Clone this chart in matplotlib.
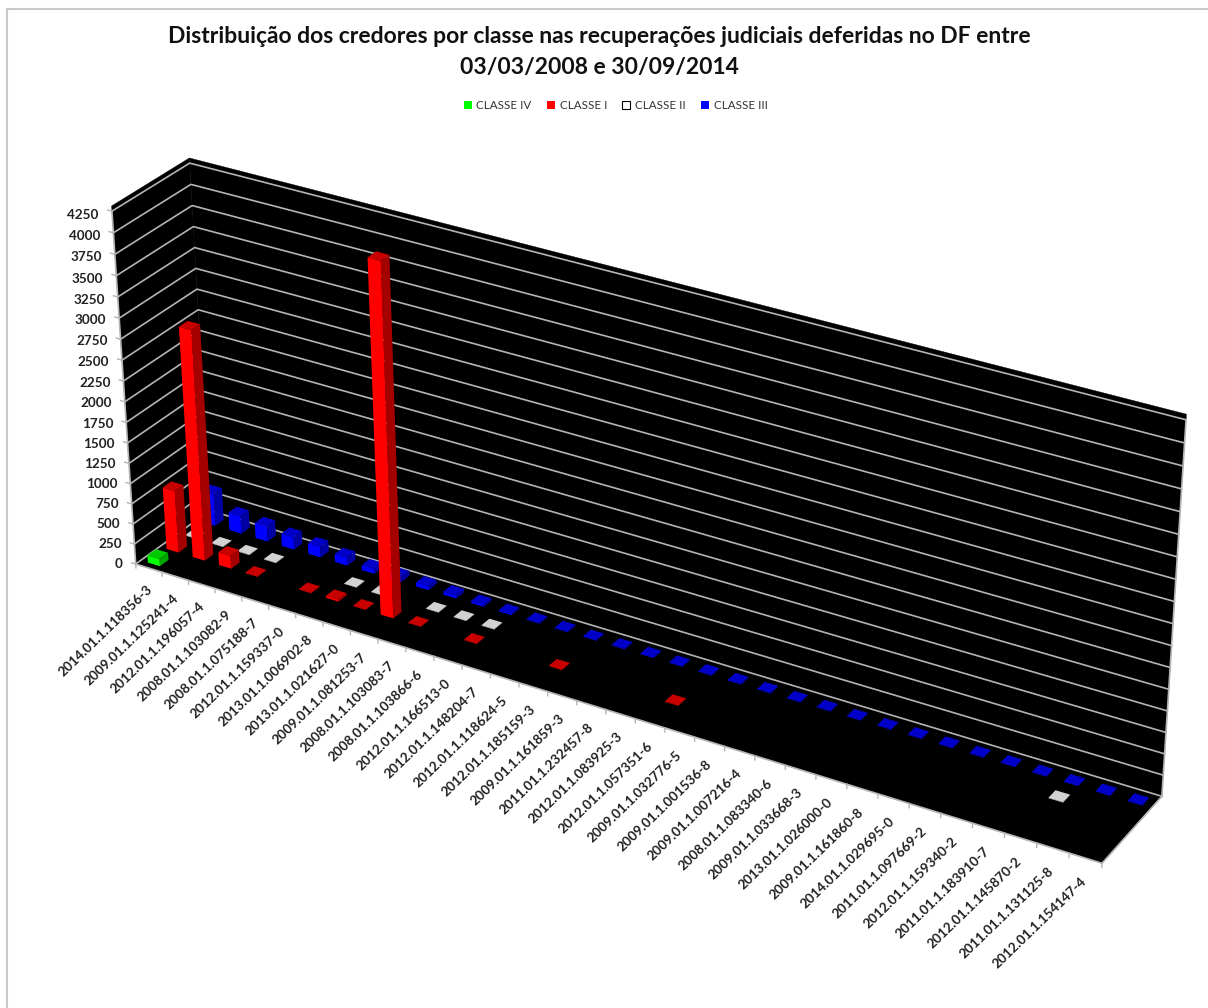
import numpy as np
import matplotlib
matplotlib.use('Agg')
import matplotlib.pyplot as plt
from matplotlib.lines import Line2D
from matplotlib.patches import Patch
from mpl_toolkits.mplot3d import proj3d
from mpl_toolkits.mplot3d.art3d import Poly3DCollection

plt.rcParams['font.family'] = ['Lato', 'DejaVu Sans']

W, H = 1208, 1008
S = 1400

processos = ['2014.01.1.118356-3', '2009.01.1.125241-4', '2012.01.1.196057-4', '2008.01.1.103082-9',
             '2008.01.1.075188-7', '2012.01.1.159337-0', '2013.01.1.006902-8', '2013.01.1.021627-0',
             '2009.01.1.081253-7', '2008.01.1.103083-7', '2008.01.1.103866-6', '2012.01.1.166513-0',
             '2012.01.1.148204-7', '2012.01.1.118624-5', '2012.01.1.185159-3', '2009.01.1.161859-3',
             '2011.01.1.232457-8', '2012.01.1.083925-3', '2012.01.1.057351-6', '2009.01.1.032776-5',
             '2009.01.1.001536-8', '2009.01.1.007216-4', '2008.01.1.083340-6', '2009.01.1.033668-3',
             '2013.01.1.026000-0', '2009.01.1.161860-8', '2014.01.1.029695-0', '2011.01.1.097669-2',
             '2012.01.1.159340-2', '2011.01.1.183910-7', '2012.01.1.145870-2', '2011.01.1.131125-8',
             '2012.01.1.154147-4']
classe_iv = [90] + [0] * 32
classe_i = [770, 2820, 160, 10, 0, 8, 25, 8, 4240, 5, 0, 5, 0, 0, 5, 0, 0, 0, 5] + [0] * 14
classe_ii = [5, 5, 5, 5, 0, 0, 5, 5, 0, 5, 5, 5] + [0] * 18 + [5, 0, 0]
classe_iii = [400, 220, 190, 155, 135, 100, 60, 60, 50, 40, 25, 15, 10, 10, 8, 8, 8, 8, 8, 8,
              6, 6, 6, 6, 6, 6, 6, 5, 5, 5, 5, 5, 5]
yticks = list(range(0, 4500, 250))

N = len(processos)
D = 4
Z_TOP = 4310

fig = plt.figure(figsize=(W / 100, H / 100), dpi=100)
# camera worked out from the corners of the walls in the picture
ax = fig.add_axes([((W - S) / 2 + 1.69) / W, ((H - S) / 2 - 11.8) / H, S / W, S / H], projection='3d')
ax.view_init(28.97, -59.10, 0.32)
ax.set_proj_type('persp', focal_length=float(np.exp(-0.5376)))
ax.set_box_aspect((1, float(np.exp(-2.1244)), float(np.exp(-1.0055))), zoom=float(np.exp(-0.1680)))
ax.set_axis_off()
ax.computed_zorder = False
ax.patch.set_alpha(0)

wall = [[(0, 0, 0), (0, D, 0), (0, D, Z_TOP), (0, 0, Z_TOP)],
        [(0, D, 0), (N, D, 0), (N, D, Z_TOP), (0, D, Z_TOP)],
        [(0, 0, 0), (N, 0, 0), (N, D, 0), (0, D, 0)]]
ax.add_collection3d(Poly3DCollection(wall, facecolors='black', edgecolors='black', linewidths=0.3, zorder=1))

GRID = '#b4b4b4'
TXT = '#222222'
for v in yticks:
    ax.plot([0, 0, N], [0, D, D], [v, v, v], color=GRID, lw=1.2, zorder=2)
    ax.plot([-0.16, 0], [0, 0], [v, v], color=GRID, lw=1.0, zorder=2)
ax.plot([0, 0], [0, 0], [0, 4250], color=GRID, lw=1.2, zorder=2)
ax.plot([N, N], [D, D], [0, 4250], color=GRID, lw=1.2, zorder=2)
ax.plot([0, N, N], [0, 0, D], [0, 0, 0], color=GRID, lw=1.2, zorder=2)
for i in range(N + 1):
    ax.plot([i, i], [0, 0], [0, -50], color=GRID, lw=1.0, zorder=2)

NONE = (0, 0, 0, 0)
BW = 0.46
series = [(classe_iii, 3.5, '#0000ff', '#0000c8', '#0000a5'),
          (classe_ii, 2.5, '#ffffff', '#d2d2d2', '#a5a5a5'),
          (classe_i, 1.5, '#ff0000', '#c80000', '#a50000'),
          (classe_iv, 0.5, '#00ff00', '#00c800', '#00a500')]
zo = 3
for vals, row, front, top, side in series:
    for i, v in enumerate(vals):
        if v <= 0:
            continue
        bar = ax.bar3d(i + 0.5 - BW / 2, row - BW / 2, 0, BW, BW, v, shade=False, linewidth=0,
                       color=[NONE, top, front, NONE, NONE, side])
        bar.set_zorder(zo)
    zo += 1
ax.set_xlim(0, N)
ax.set_ylim(0, D)
ax.set_zlim(0, 4250)

# 3d text always lies flat, so the labels go on the 2d plane of the axes
M = ax.get_proj()
for v in yticks:
    sx, sy, _ = proj3d.proj_transform(-0.5, 0, 0.991 * v - 45, M)
    ax.text2D(sx, sy, str(v), transform=ax.transData, ha='right', va='center',
              fontsize=9.7, fontweight='bold', color=TXT, zorder=10)
for i, lab in enumerate(processos):
    sx, sy, _ = proj3d.proj_transform(i + 0.5, 0, -250, M)
    ax.text2D(sx, sy, lab, transform=ax.transData, ha='right', va='center', rotation=44, rotation_mode='anchor',
              fontsize=9.7, fontweight='bold', color=TXT, zorder=10)

fig.text(0.4965, 0.9633, 'Distribuição dos credores por classe nas recuperações judiciais deferidas no DF entre',
         ha='center', va='center', fontsize=16.5, fontweight='bold', color='#111111')
fig.text(0.4965, 0.9335, '03/03/2008 e 30/09/2014', ha='center', va='center', fontsize=16.5, fontweight='bold', color='#111111')
handles = [Patch(fc='#00ff00', ec='none'), Patch(fc='#ff0000', ec='none'),
           Patch(fc='white', ec='black', lw=0.8), Patch(fc='#0000ff', ec='none')]
fig.legend(handles, ['CLASSE IV', 'CLASSE I', 'CLASSE II', 'CLASSE III'], loc='center', bbox_to_anchor=(0.5096, 0.8955),
           ncol=4, frameon=False, fontsize=8.4, handlelength=0.7, handleheight=0.7, handletextpad=0.4, columnspacing=1.3, labelcolor='#333333')
# frame of the chart, only the left and top sides show
fig.add_artist(Line2D([7.5 / W, 7.5 / W, 1], [0, 1 - 8.5 / H, 1 - 8.5 / H], transform=fig.transFigure, color='#c8c8c8', lw=1.5))
fig.savefig('out.png', dpi=100)
